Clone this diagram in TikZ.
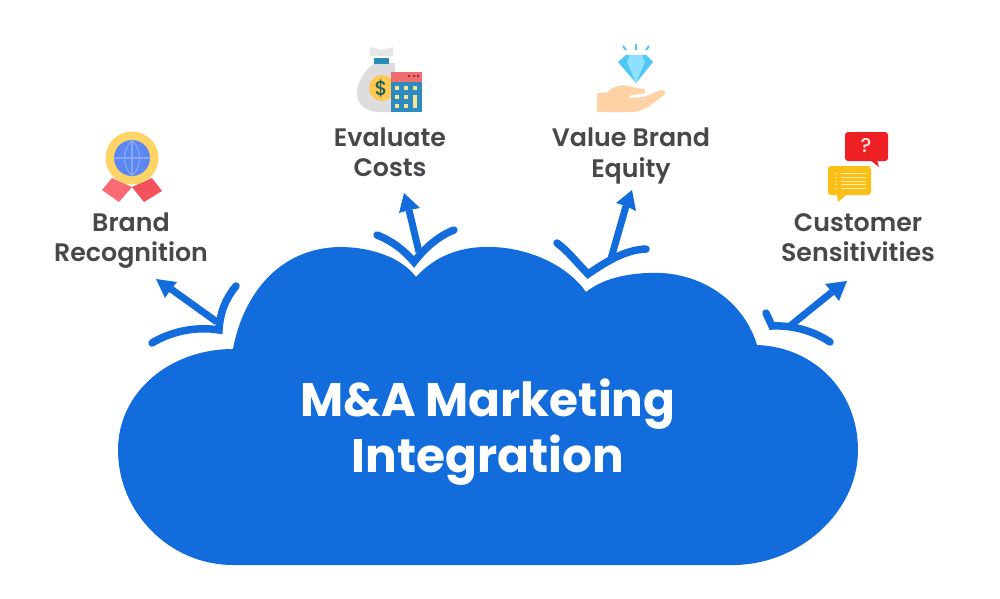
\documentclass[tikz,border=0pt]{standalone}
\usepackage{fontspec}
\setmainfont{Poppins}[UprightFont=* Medium,BoldFont=* Bold]
\newfontfamily\labelfont{Poppins}[UprightFont=* SemiBold]
\definecolor{cloudblue}{HTML}{126CDC}
\definecolor{labelgrey}{HTML}{48484C}
\definecolor{medalgold}{HTML}{FFD466}
\definecolor{ribbonL}{HTML}{FA6B75}
\definecolor{ribbonR}{HTML}{F4515F}
\definecolor{globeblue}{HTML}{5C86F2}
\definecolor{globeline}{HTML}{86A6F7}
\definecolor{sackgrey}{HTML}{DDDDDD}
\definecolor{sackband}{HTML}{2A8CB8}
\definecolor{coingold}{HTML}{FFC84F}
\definecolor{dollargreen}{HTML}{1F5F5F}
\definecolor{calcblue}{HTML}{2F8ABD}
\definecolor{calcred}{HTML}{EF6E70}
\definecolor{calckey}{HTML}{F5E39A}
\definecolor{gemdark}{HTML}{4FC6F5}
\definecolor{gemlight}{HTML}{8FE0FA}
\definecolor{handskin}{HTML}{FFD2A6}
\definecolor{bubblered}{HTML}{EE2024}
\definecolor{bubbleyellow}{HTML}{FBBF16}
\definecolor{bubbleline}{HTML}{FDEBB5}
\tikzset{
  labeltext/.style={text=labelgrey,font=\labelfont\fontsize{25.3}{30}\selectfont,anchor=base,inner sep=0pt},
  titletext/.style={text=white,font=\bfseries\fontsize{47}{56}\selectfont,anchor=base,inner sep=0pt},
  branch/.style={draw=cloudblue,line width=7.5pt,line cap=round,line join=miter},
  stem/.style={draw=cloudblue,line width=7pt},
  headfill/.style={fill=cloudblue,draw=none},
}
\begin{document}
\begin{tikzpicture}[x=1pt,y=-1pt]
\useasboundingbox (0,0) rectangle (1000,598);
\fill[white] (0,0) rectangle (1000,598);
% cloud
\fill[cloudblue] (233,349)
  .. controls (242,300) and (275,248) .. (340,247)
  .. controls (372,247) and (402,258) .. (416,277)
  .. controls (436,255) and (462,246) .. (492,247)
  .. controls (530,248) and (568,266) .. (586,292)
  .. controls (606,276) and (636,272) .. (662,273)
  .. controls (708,276) and (745,305) .. (757,345)
  .. controls (815,347) and (858,392) .. (858,450)
  .. controls (858,513) and (798,565) .. (733,565)
  -- (233,565)
  .. controls (170,565) and (118,513) .. (118,450)
  .. controls (118,392) and (170,349) .. (233,349) -- cycle;
\node[titletext] (title1) at (488,416) {M\&A Marketing};
\node[titletext] (title2) at (488,472) {Integration};
% labels
\node[labeltext] (brand) at (131,231) {Brand};
\node[labeltext] (recog) at (131,261) {Recognition};
\node[labeltext] (eval) at (390,146) {Evaluate};
\node[labeltext] (costs) at (390,176) {Costs};
\node[labeltext] (value) at (631,146) {Value Brand};
\node[labeltext] (equity) at (631,177) {Equity};
\node[labeltext] (cust) at (858,231) {Customer};
\node[labeltext] (sens) at (858,261) {Sensitivities};
% arrow 1
\coordinate (a1up) at (236,286); \coordinate (a1tip) at (219,330); \coordinate (a1lo) at (152,343);
\coordinate (a1base) at (217,322); \coordinate (a1head) at (156,279);
\draw[branch] (a1up) .. controls (226,298) and (220,312) .. (a1tip) .. controls (195,326) and (170,332) .. (a1lo);
\draw[stem] (a1base) -- (171,289);
\fill[headfill] (a1head) -- (177,282) -- (171,289) -- (165,298) -- cycle;
% arrow 2
\coordinate (a2l) at (377,235); \coordinate (a2tip) at (414,262); \coordinate (a2r) at (454,230);
\coordinate (a2base) at (419,252); \coordinate (a2head) at (404,193);
\draw[branch] (a2l) .. controls (392,241) and (404,250) .. (a2tip) .. controls (424,249) and (438,236) .. (a2r);
\draw[stem] (a2base) -- (409,210);
\fill[headfill] (a2head) -- (420,208) -- (409,210) -- (399,213) -- cycle;
% arrow 3
\coordinate (a3l) at (557,243); \coordinate (a3tip) at (588,274); \coordinate (a3r) at (646,249);
\coordinate (a3base) at (610,262); \coordinate (a3head) at (632,190);
\draw[branch] (a3l) .. controls (568,251) and (578,264) .. (a3tip) .. controls (606,262) and (624,250) .. (a3r);
\draw[stem] (a3base) -- (626,206);
\fill[headfill] (a3head) -- (636,211) -- (626,206) -- (616,203) -- cycle;
% arrow 4
\coordinate (a4top) at (766,313); \coordinate (a4c) at (772,326); \coordinate (a4far) at (830,342);
\coordinate (a4base) at (790,326); \coordinate (a4head) at (847,281);
\draw[branch] (a4top) -- (a4c) .. controls (795,325) and (815,332) .. (a4far);
\draw[stem] (a4base) -- (832,292);
\fill[headfill] (a4head) -- (825,284) -- (832,292) -- (839,301) -- cycle;
% medal
\fill[ribbonL] (102,190) -- (112,178) -- (132,187) -- (119,202) -- cycle;
\fill[ribbonR] (162,191) -- (152,178) -- (132,187) -- (144,202) -- cycle;
\fill[medalgold] (132,158) circle (26.5);
\fill[globeblue] (132,158) circle (18);
\draw[globeline,line width=1.2pt] (114,158) -- (150,158) (132,140) -- (132,176);
\draw[globeline,line width=1.2pt] (132,140) .. controls (122,150) and (122,166) .. (132,176) .. controls (142,166) and (142,150) .. (132,140);
% money bag and calculator
\fill[sackgrey!70!white] (370,47) -- (381,50) -- (393,47) -- (393,56) -- (370,56) -- cycle;
\fill[sackgrey] (375,63) .. controls (362,72) and (357,84) .. (357,94) .. controls (357,106) and (368,112) .. (380,112) -- (395,112) -- (395,63) -- cycle;
\fill[sackband] (374,58) rectangle (389,64);
\fill[coingold] (382,88) circle (13);
\node[text=dollargreen,font=\fontsize{20}{20}\selectfont,inner sep=0pt] (dollar) at (381,89) {\$};
\fill[calcblue] (391,72) rectangle (422,112);
\fill[calcred] (391,72) rectangle (422,82);
\foreach \x/\y in {397/88,406/88,415/88,397/97,406/97,397/106,406/106} \fill[calckey] (\x-2,\y-2) rectangle (\x+2,\y+2);
\fill[calckey] (413,95) rectangle (417,108);
\foreach \x in {409,414,418} \fill[black!60!red] (\x,76) circle (1);
% diamond and hand
\fill[gemdark] (618,62) -- (626,55) -- (646,55) -- (653,62) -- (636,83) -- cycle;
\fill[gemlight] (627,62) -- (645,62) -- (636,83) -- cycle;
\fill[gemlight] (630,55) -- (642,55) -- (645,62) -- (627,62) -- cycle;
\draw[gemdark,line width=2pt] (623,46) -- (626,50) (636,44) -- (636,50) (649,46) -- (646,50);
\fill[handskin] (597,93) -- (606,93) .. controls (615,84) and (625,84) .. (632,87) -- (644,89) .. controls (647,91) and (645,94) .. (642,94) -- (631,95) -- (628,98) -- (644,97) -- (661,90) .. controls (665,90) and (666,93) .. (664,95) .. controls (654,102) and (645,112) .. (632,112) -- (597,112) -- cycle;
% speech bubbles
\fill[bubblered,rounded corners=3pt] (845,132) rectangle (888,161);
\fill[bubblered] (870,160) -- (879,167) -- (877,160) -- cycle;
\node[text=white!90!red,font=\fontsize{20}{20}\selectfont,inner sep=0pt] (qmark) at (866,146) {?};
\fill[bubbleyellow,rounded corners=3pt] (828,166) rectangle (871,195);
\fill[bubbleyellow] (837,194) -- (838,202) -- (847,194) -- cycle;
\foreach \y in {173,177,181,184,188} {\draw[bubbleline,line width=1pt] (835,\y) -- (837,\y) (841,\y) -- (866,\y);}
\end{tikzpicture}
\end{document}
